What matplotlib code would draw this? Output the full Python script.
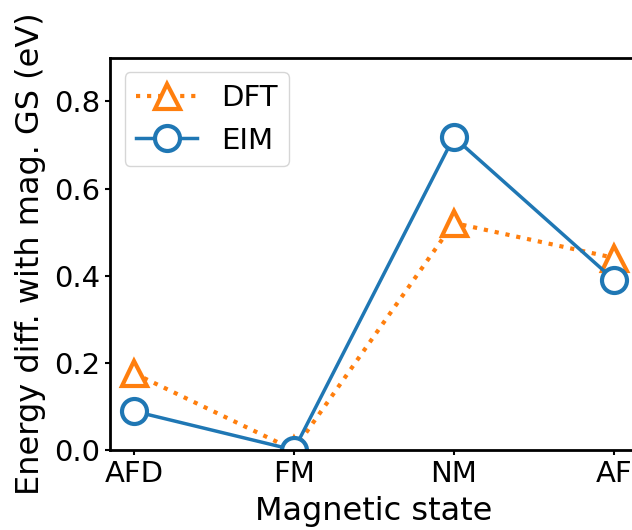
import numpy as np
import matplotlib.pyplot as plt

# magnetic states (last one is cut off by the figure edge)
states = ['AFD', 'FM', 'NM', 'AF']
dft = [0.176, 0.0, 0.521, 0.441]
eim = [0.089, 0.0, 0.718, 0.391]

x = np.arange(len(states))

fig = plt.figure(figsize=(6.32, 5.30), dpi=100)
ax = fig.add_axes([0.174, 0.151, 0.835, 0.74])

ax.plot(x, dft, ':', color='tab:orange', lw=3, marker='^', ms=18,
        mfc='white', mew=3, label='DFT')
ax.plot(x, eim, '-', color='tab:blue', lw=2.5, marker='o', ms=18,
        mfc='white', mew=3, label='EIM')

ax.set_xlim(-0.15, 3.15)
ax.set_ylim(0, 0.9)
ax.set_xticks(x)
ax.set_xticklabels(states)
ax.set_yticks([0.0, 0.2, 0.4, 0.6, 0.8])
ax.tick_params(labelsize=21, width=1.5)
for s in ax.spines.values():
    s.set_linewidth(2)

ax.set_xlabel('Magnetic state', fontsize=23, labelpad=6)
ax.set_ylabel('Energy diff. with mag. GS (eV)', fontsize=23, labelpad=6)
ax.legend(loc='upper left', fontsize=21, handlelength=2.1)

fig.savefig('out.png', dpi=100)
